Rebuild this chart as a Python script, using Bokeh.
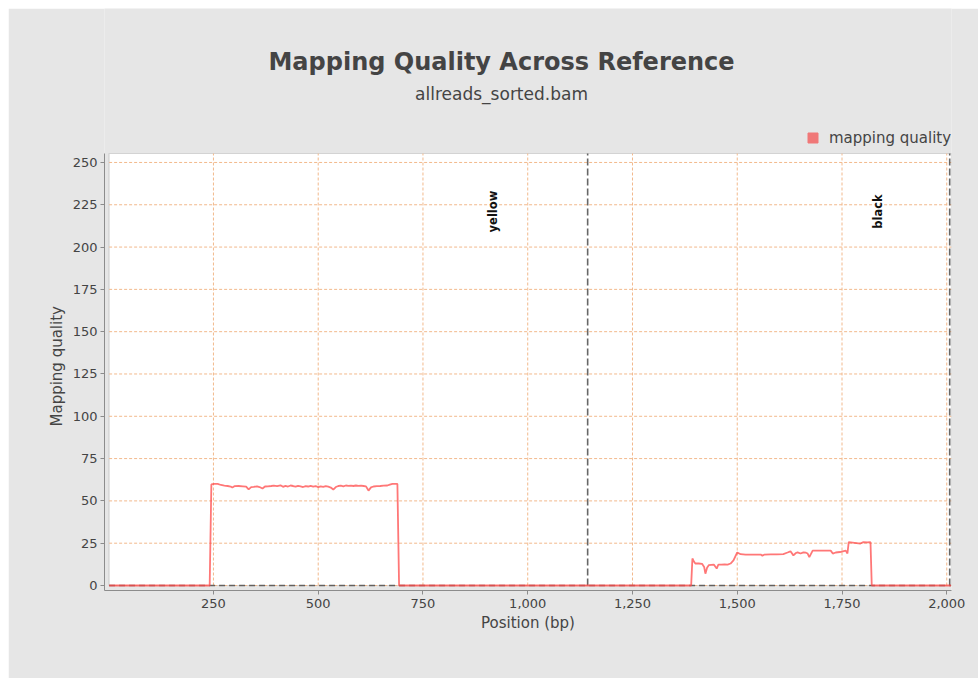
from bokeh.plotting import figure
from bokeh.models import (Range1d, FixedTicker, BoxAnnotation, Label, Legend, LegendItem,
                          ColumnDataSource, NumeralTickFormatter, Title)
from bokeh.core.properties import value
from bokeh.embed import file_html
from bokeh.resources import INLINE

# ---------------- data ----------------
position = [1, 241, 245, 252, 260, 268, 276, 284, 291, 295, 300, 310, 320, 328, 334, 340, 346,
            354, 360, 367, 373, 380, 388, 394, 402, 410, 416, 422, 428, 434, 440, 446, 452, 458,
            464, 470, 476, 482, 488, 494, 500, 506, 512, 518, 524, 530, 536, 542, 548, 554, 560,
            566, 572, 578, 584, 590, 596, 602, 608, 614, 620, 626, 632, 640, 648, 656, 665, 671,
            677, 683, 689, 693,
            1390, 1393, 1397, 1400, 1408, 1416, 1421, 1424, 1428, 1432, 1438, 1444, 1451, 1455,
            1462, 1470, 1477, 1484, 1491, 1496, 1500, 1508, 1520, 1532, 1544, 1556, 1560, 1565,
            1580, 1595, 1610, 1620, 1627, 1634, 1640, 1644, 1651, 1658, 1664, 1668, 1672, 1680,
            1690, 1705, 1723, 1728, 1735, 1745, 1759, 1763, 1766, 1780, 1794, 1801, 1810, 1818,
            1821, 2010]
mapping_quality = [0, 0, 59.7, 60.1, 60.0, 59.4, 59.0, 58.8, 58.5, 57.9, 58.7, 58.8, 58.6, 58.4,
                   56.8, 58.1, 58.3, 58.6, 58.2, 57.3, 58.5, 58.6, 58.8, 59.0, 58.7, 59.2, 58.3,
                   58.9, 58.5, 59.1, 58.8, 58.4, 58.9, 58.6, 58.2, 58.7, 58.5, 58.9, 58.4, 58.8,
                   58.1, 58.6, 58.3, 58.7, 58.4, 57.9, 56.7, 58.2, 58.8, 59.0, 58.6, 59.1, 58.9,
                   59.0, 58.8, 59.1, 58.9, 59.0, 58.8, 58.6, 56.1, 58.0, 58.5, 58.7, 58.8, 59.0,
                   59.1, 59.6, 60.1, 60.1, 60.0, 0,
                   0, 16.0, 14.0, 13.0, 13.0, 12.8, 11.0, 7.0, 10.5, 12.0, 12.2, 12.4, 10.0, 12.4,
                   12.3, 12.5, 12.4, 13.0, 14.8, 17.5, 19.5, 18.5, 18.3, 18.3, 18.3, 18.3, 17.6,
                   18.3, 18.4, 18.4, 18.6, 19.5, 20.2, 17.8, 19.2, 19.6, 18.9, 19.6, 19.4, 18.9,
                   16.8, 20.6, 20.6, 20.6, 20.6, 18.9, 19.5, 19.8, 20.6, 18.9, 25.6, 25.2, 24.8,
                   25.6, 25.5, 25.6, 0, 0]

contig_names = ["yellow", "black"]
contig_ends = [1143, 2007]
contig_label_x = [916, 1837]

x_ticks = [250, 500, 750, 1000, 1250, 1500, 1750, 2000]
y_ticks = [0, 25, 50, 75, 100, 125, 150, 175, 200, 225, 250]

title_text = "Mapping Quality Across Reference"
subtitle_text = "allreads_sorted.bam"
series_name = "mapping quality"
x_label = "Position (bp)"
y_label = "Mapping quality"

# ---------------- styles ----------------
FONT = "DejaVu Sans"
BG = "#E6E6E6"
TXT = "#444444"
RED = "#FF4A4A"
GRID = "#F2B98C"

x_start, x_end = -10, 2011.3
y_start, y_top = -2.95, 255.3      # data area
y_frame_end = 340.98               # frame extends up to the figure top (title area)

p = figure(width=970, height=670, output_backend="svg", toolbar_location=None,
           x_range=Range1d(x_start, x_end), y_range=Range1d(y_start, y_frame_end),
           min_border_left=96, min_border_right=27, min_border_top=0, min_border_bottom=88)
p.title.visible = False
p.margin = (8, 0, 0, 8)
p.background_fill_color = BG
p.border_fill_color = BG
p.outline_line_color = None
p.xgrid.visible = False
p.ygrid.visible = False

# white data area with frame
p.add_layout(BoxAnnotation(left=1, bottom=0, top=y_top, fill_color="white", fill_alpha=1.0,
                           line_color="#8C8C8C", line_width=1.2, level="image"))

# grid lines restricted to the data area
p.segment(x0=x_ticks, y0=[0] * len(x_ticks), x1=x_ticks, y1=[y_top] * len(x_ticks),
          line_color=GRID, line_dash="3 2", line_width=1, level="underlay")
p.segment(x0=[1] * len(y_ticks), y0=y_ticks, x1=[x_end] * len(y_ticks), y1=y_ticks,
          line_color=GRID, line_dash="3 2", line_width=1, level="underlay")

# axes
p.xaxis.ticker = FixedTicker(ticks=x_ticks)
p.yaxis.ticker = FixedTicker(ticks=y_ticks)
p.yaxis.bounds = (y_start, y_top)
p.xaxis.formatter = NumeralTickFormatter(format="0,0")
for ax in (p.xaxis[0], p.yaxis[0]):
    ax.axis_line_color = "#8C8C8C"
    ax.major_tick_line_color = "#8C8C8C"
    ax.major_tick_out = 4
    ax.major_tick_in = 0
    ax.minor_tick_line_color = None
    ax.major_label_text_font = FONT
    ax.major_label_text_font_size = "13px"
    ax.major_label_text_color = TXT
    ax.axis_label_text_font = FONT
    ax.axis_label_text_font_size = "15px"
    ax.axis_label_text_color = TXT
    ax.axis_label_text_font_style = "normal"
p.xaxis.axis_label = x_label
p.xaxis.major_label_standoff = 4
p.yaxis.major_label_standoff = 3
p.xaxis.axis_label_standoff = 3

# y-axis title, centred on the data area rather than the whole frame
p.add_layout(Title(text=y_label, align="left", offset=164, text_font=FONT,
                   text_font_size="15px", text_color=TXT, text_font_style="normal",
                   standoff=8), "left")

# dashed baseline at zero
p.line([position[0], position[-1]], [0, 0], line_color="#555555", line_width=1.5,
       line_dash="6 4", line_alpha=0.9)

# contig boundary markers
p.segment(x0=contig_ends, y0=[0] * len(contig_ends), x1=contig_ends,
          y1=[y_top] * len(contig_ends), line_color="#555555", line_width=1.6,
          line_dash="7 3", line_alpha=0.9)
src = ColumnDataSource(dict(x=contig_label_x, y=[221] * len(contig_label_x), t=contig_names))
p.text(x="x", y="y", text="t", source=src, angle=1.5708, text_align="center",
       text_baseline="middle", text_font=value(FONT), text_font_size="11.5px",
       text_color="#111111", text_font_style="bold")

# series
line_r = p.line(position, mapping_quality, line_color=RED, line_width=1.8, line_alpha=0.75)
leg_r = p.scatter(x=[-5000], y=[-5000], marker="square", size=10, fill_color="#F07878",
                  line_color="#F07878")

legend = Legend(items=[LegendItem(label=series_name, renderers=[leg_r])],
                location=(696, 440), orientation="horizontal",
                label_text_font=FONT, label_text_font_size="15px", label_text_color=TXT,
                glyph_width=25, glyph_height=25, label_standoff=4, padding=0, margin=0,
                border_line_color=None, background_fill_alpha=0, spacing=0)
p.add_layout(legend, "center")

# titles
p.add_layout(Label(x=937.5, y=309.1, text=title_text, text_align="center",
                   text_baseline="middle", text_font=FONT, text_font_size="24px",
                   text_font_style="bold", text_color=TXT))
p.add_layout(Label(x=937.5, y=290.7, text=subtitle_text, text_align="center",
                   text_baseline="middle", text_font=FONT, text_font_size="17px",
                   text_color=TXT))

open("out.html", "w").write(file_html(p, INLINE))
